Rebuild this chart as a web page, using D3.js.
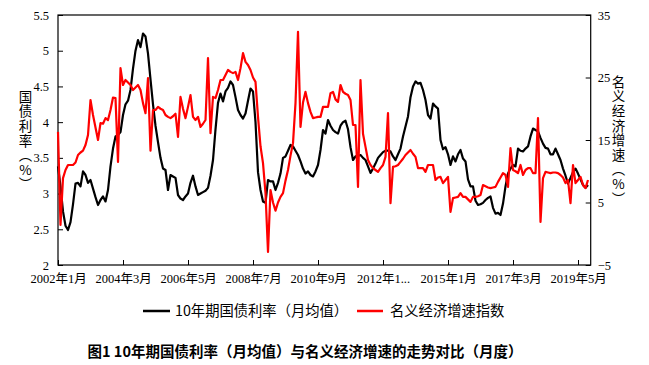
<!DOCTYPE html>
<html><head><meta charset="utf-8">
<script src="https://cdn.jsdelivr.net/npm/d3@7"></script>
<style>body{margin:0;background:#fff}svg{display:block}
.vt{writing-mode:vertical-rl;text-orientation:upright;font-feature-settings:"vert" 0,"vrt2" 0;}</style>
</head><body><svg id="c" width="649" height="365"></svg>
<script>
// ---- data ----
const startYear = 2002, startMonth = 1, monthCount = 213;
const categories = [];
for (let i = 0; i < monthCount; i++) { const m = startMonth - 1 + i; categories.push((startYear + Math.floor(m / 12)) + "年" + (m % 12 + 1) + "月"); }
const tickIndices = [0, 26, 52, 78, 104, 130, 156, 182, 208];
const tickLabels = ["2002年1月","2004年3月","2006年5月","2008年7月","2010年9月","2012年1...","2015年1月","2017年3月","2019年5月"];
const leftTicks = [2, 2.5, 3, 3.5, 4, 4.5, 5, 5.5];
const rightTicks = [-5, 5, 15, 25, 35];
const seriesNames = ["10年期国债利率（月均值）", "名义经济增速指数"];
const leftAxisTitle = "国债利率（%）";
const rightAxisTitle = "名义经济增速（%）";
const chartTitle = "图1 10年期国债利率（月均值）与名义经济增速的走势对比（月度）";
const bondYield = [
3.38,3.10,2.75,2.55,2.49,2.60,2.85,3.14,3.15,3.10,3.31,3.26,3.15,3.19,3.07,2.95,2.84,2.91,2.96,2.89,
3.05,3.38,3.63,3.80,3.82,3.86,4.10,4.25,4.30,4.45,4.75,5.00,5.15,5.05,5.24,5.20,4.96,4.60,4.25,3.95,
3.72,3.50,3.35,3.33,3.05,3.26,3.24,3.22,2.98,2.93,2.91,2.96,3.00,3.15,3.25,3.10,2.98,3.00,3.02,3.04,
3.08,3.25,3.47,3.90,4.27,4.40,4.29,4.43,4.48,4.57,4.52,4.35,4.17,4.10,4.05,4.12,4.30,4.47,4.43,4.00,
3.30,3.05,2.89,2.87,3.19,3.17,3.17,3.05,3.15,3.28,3.50,3.52,3.60,3.68,3.66,3.60,3.54,3.45,3.35,3.28,
3.31,3.26,3.24,3.31,3.40,3.61,3.89,3.84,4.03,3.95,3.89,3.86,3.84,3.95,4.00,4.02,3.90,3.65,3.47,3.52,
3.53,3.54,3.50,3.47,3.38,3.29,3.35,3.42,3.50,3.54,3.58,3.60,3.60,3.59,3.52,3.47,3.55,3.63,3.80,3.94,
4.08,4.35,4.50,4.57,4.54,4.55,4.45,4.31,4.10,4.05,4.26,4.22,4.19,3.75,3.62,3.65,3.55,3.40,3.52,3.45,
3.55,3.61,3.49,3.45,3.20,3.10,3.10,2.90,2.84,2.85,2.87,2.91,2.94,2.96,2.80,2.72,2.73,2.70,2.86,3.10,
3.28,3.35,3.40,3.38,3.63,3.60,3.59,3.63,3.66,3.80,3.91,3.89,3.87,3.78,3.70,3.64,3.63,3.55,3.55,3.63,
3.55,3.47,3.35,3.25,3.14,3.22,3.30,3.35,3.28,3.20,3.12,3.08,3.12];
const nominalGrowth = [
16.3,1.4,8.9,10.2,11.0,11.0,11.0,11.4,12.6,13.0,13.3,14.2,15.8,21.4,19.0,17.0,15.0,17.7,17.6,18.5,
18.2,19.8,21.8,21.7,11.5,26.5,23.8,24.6,24.2,23.8,23.0,23.4,23.8,23.0,20.9,19.3,24.9,13.3,19.8,19.8,
20.3,20.0,19.8,19.0,18.7,18.5,18.8,19.2,15.5,21.9,20.0,18.5,20.3,22.2,18.7,18.2,18.7,17.1,17.6,18.2,
28.1,16.1,21.9,21.7,23.0,24.6,24.6,25.4,26.2,25.9,25.7,25.9,24.6,26.5,28.9,27.5,27.0,26.2,25.0,24.3,
18.7,14.0,11.3,6.5,-2.9,7.0,5.0,3.7,5.0,5.9,6.5,8.5,10.2,12.5,14.5,20.9,32.3,17.1,21.0,22.7,
20.9,19.5,18.5,18.6,18.7,18.7,20.3,20.3,20.3,22.5,22.7,21.5,21.1,23.8,22.7,22.4,22.2,21.4,17.4,17.4,
7.5,24.6,16.0,13.9,11.8,11.0,10.5,10.2,9.9,10.5,11.0,12.3,19.3,4.9,10.7,10.8,11.0,11.5,12.0,12.6,
13.0,13.4,12.8,12.3,10.5,10.5,10.5,9.9,11.0,11.0,11.0,8.6,9.0,9.1,8.1,8.6,9.1,3.5,5.7,5.8,
5.9,6.5,5.9,5.9,5.5,5.1,5.9,5.9,6.0,6.2,7.8,7.6,7.4,7.3,7.4,7.5,8.3,9.0,9.7,9.4,
7.5,13.7,10.2,10.0,9.7,11.0,9.4,10.2,10.5,10.5,9.7,9.7,18.5,1.9,8.9,9.9,9.8,9.7,9.8,9.8,
9.7,9.4,9.0,8.1,8.6,4.9,11.0,8.1,8.6,9.1,7.8,7.3,8.6];

// ---- layout ----
const svg = d3.select("#c");
const L = 58, R = 590.7, T = 15, B = 265;
const serif = "'Liberation Serif','Times New Roman','Noto Sans CJK SC',serif";
const cjk = "'Noto Sans CJK SC','Liberation Serif',sans-serif";

const x = d3.scaleLinear().domain([0, 213.08]).range([L, R]);
const yL = d3.scaleLinear().domain([2, 5.5]).range([B, T]);
const yR = d3.scaleLinear().domain([-5, 35]).range([B, T]);

// axes
const gl = svg.append("g").attr("transform", `translate(${L},0)`)
  .call(d3.axisLeft(yL).tickValues(leftTicks).tickFormat(d3.format("")).tickSize(-5).tickPadding(9));
const gr = svg.append("g").attr("transform", `translate(${R},0)`)
  .call(d3.axisRight(yR).tickValues(rightTicks).tickFormat(d3.format("")).tickSize(-5).tickPadding(7));
const gb = svg.append("g").attr("transform", `translate(0,${B})`)
  .call(d3.axisBottom(x).tickValues(tickIndices).tickFormat((d, i) => tickLabels[i]).tickSize(-5).tickPadding(9.5));
[gl, gr, gb].forEach(g => {
  g.select(".domain").remove();
  g.selectAll(".tick line").attr("stroke", "#000").attr("stroke-width", 1);
  g.selectAll("text").attr("font-family", serif).attr("font-size", 12.5).attr("fill", "#000");
});

// plot frame
svg.append("rect").attr("x", L).attr("y", T).attr("width", R - L).attr("height", B - T)
  .attr("fill", "none").attr("stroke", "#000").attr("stroke-width", 1.2);

// lines
const lineL = d3.line().x((d, i) => x(i)).y(d => yL(d));
const lineR = d3.line().x((d, i) => x(i)).y(d => yR(d));
svg.append("path").datum(bondYield).attr("d", lineL).attr("fill", "none")
  .attr("stroke", "#000").attr("stroke-width", 2.2).attr("stroke-linejoin", "round");
svg.append("path").datum(nominalGrowth).attr("d", lineR).attr("fill", "none")
  .attr("stroke", "#ff0000").attr("stroke-width", 2.2).attr("stroke-linejoin", "round");

// vertical axis titles (vertical writing mode, upright glyphs)
function vertical(text, cx, yTop) {
  svg.append("text").attr("class", "vt").attr("x", cx).attr("y", yTop)
    .attr("font-family", cjk).attr("font-size", 13.5).attr("letter-spacing", 1.1)
    .attr("fill", "#000").text(text);
}
vertical(leftAxisTitle, 25.5, 90);
vertical(rightAxisTitle, 618.5, 75);

// legend
const leg = [{c: "#000", x1: 143, x2: 170, tx: 175}, {c: "#ff0000", x1: 357, x2: 383, tx: 390}];
leg.forEach((l, i) => {
  svg.append("line").attr("x1", l.x1).attr("x2", l.x2).attr("y1", 311).attr("y2", 311)
    .attr("stroke", l.c).attr("stroke-width", 2.5);
  svg.append("text").attr("x", l.tx).attr("y", 311).attr("dy", "0.35em")
    .attr("font-family", cjk).attr("font-size", 14.3).text(seriesNames[i]);
});

// title
svg.append("text").attr("x", 305).attr("y", 352).attr("dy", "0.35em").attr("text-anchor", "middle")
  .attr("font-family", cjk).attr("font-weight", "bold").attr("font-size", 14.5)
  .text(chartTitle);
</script></body></html>
